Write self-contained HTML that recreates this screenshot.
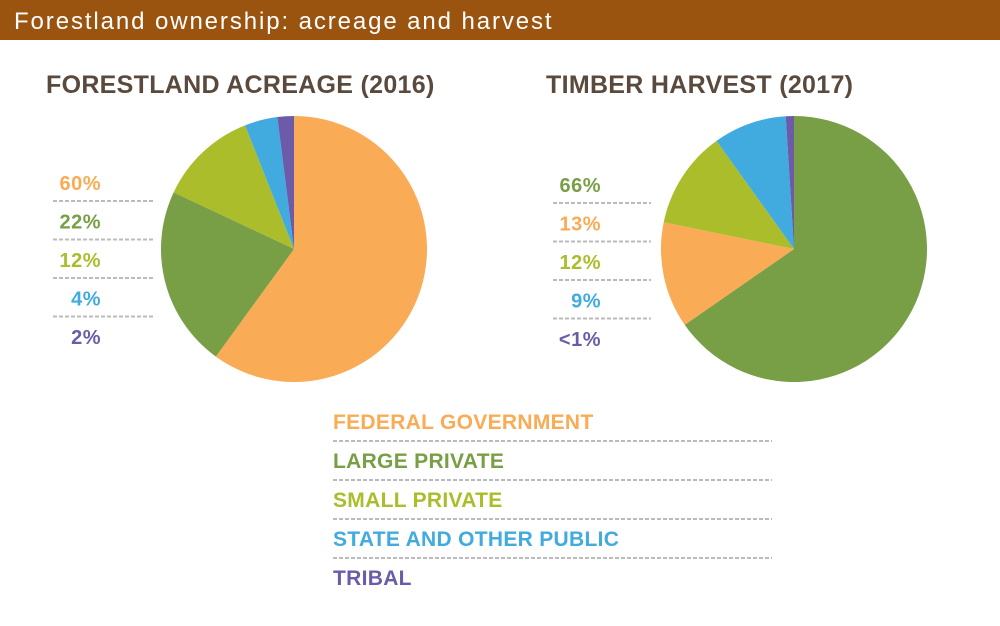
<!DOCTYPE html>
<html><head><meta charset="utf-8"><style>
body{margin:0;width:1000px;height:621px;background:#fff;overflow:hidden;font-family:"Liberation Sans",sans-serif}
svg text{font-family:"Liberation Sans",sans-serif;font-weight:bold}
</style></head><body>
<svg width="1000" height="621">
<rect x="0" y="0" width="1000" height="40" fill="#9A5410"/>
<text x="14" y="29" fill="#fff" font-size="24" letter-spacing="1.9" style="font-weight:normal">Forestland ownership: acreage and harvest</text>
<text x="46" y="93" fill="#5A4A3E" font-size="25" letter-spacing="0.3">FORESTLAND ACREAGE (2016)</text>
<text x="546" y="93" fill="#5A4A3E" font-size="25" letter-spacing="0.3">TIMBER HARVEST (2017)</text>
<g id="g"></g>
</svg>
<script>
const categories=["FEDERAL GOVERNMENT","LARGE PRIVATE","SMALL PRIVATE","STATE AND OTHER PUBLIC","TRIBAL"];
const colors=["#F9AB55","#789E46","#ABBD2A","#41ABE0","#6B5BA8"];
const acreage=[60,22,12,4,2];
const acreageLabels=["60%","22%","12%","4%","2%"];
const harvestOrder=[1,0,2,3,4];
const harvest=[13,66,12,9,1];
const harvestLabels=["13%","66%","12%","9%","<1%"];
const NS="http://www.w3.org/2000/svg";
const g=document.getElementById('g');
function mk(t,a){const e=document.createElementNS(NS,t);for(const k in a)e.setAttribute(k,a[k]);g.appendChild(e);return e;}
function pie(cx,cy,r,vals,order,pfx){
  const tot=order.reduce((s,i)=>s+vals[i],0);let a=0;
  order.forEach(i=>{
    const a0=a/tot*2*Math.PI;a+=vals[i];const a1=a/tot*2*Math.PI;
    const x0=cx+r*Math.sin(a0),y0=cy-r*Math.cos(a0),x1=cx+r*Math.sin(a1),y1=cy-r*Math.cos(a1);
    const p=mk('path',{d:`M${cx},${cy}L${x0},${y0}A${r},${r} 0 ${a1-a0>Math.PI?1:0} 1 ${x1},${y1}Z`,fill:colors[i]});
    
    
  });
}
pie(294,249,133,acreage,[0,1,2,3,4],'acreage');
pie(794,249,133,harvest,harvestOrder,'harvest');
function labels(xr,x0,x1,y0,vals,order,pfx){
  order.forEach((i,k)=>{
    const t=mk('text',{x:xr,y:y0+k*38.5,fill:colors[i],'font-size':20,'text-anchor':'end','letter-spacing':0.5});
    t.textContent=vals[i];
    
    
    if(k<4){const l=mk('line',{x1:x0,x2:x1,y1:y0+k*38.5+11,y2:y0+k*38.5+11,stroke:'#bbb','stroke-width':2,'stroke-dasharray':'4 2'});
    
    }
  });
}
labels(101,53,155,190,acreageLabels,[0,1,2,3,4],'acreage');
labels(601,553,651,192,harvestLabels,[1,0,2,3,4],'harvest');
categories.forEach((c,i)=>{
  const t=mk('text',{x:333,y:429+i*39,fill:colors[i],'font-size':21,'letter-spacing':0.3});
  t.textContent=c;
  
  
  if(i<4){const l=mk('line',{x1:333,x2:772,y1:441+i*39,y2:441+i*39,stroke:'#bbb','stroke-width':2,'stroke-dasharray':'4 2'});
  
  }
});
</script>
</body></html>
